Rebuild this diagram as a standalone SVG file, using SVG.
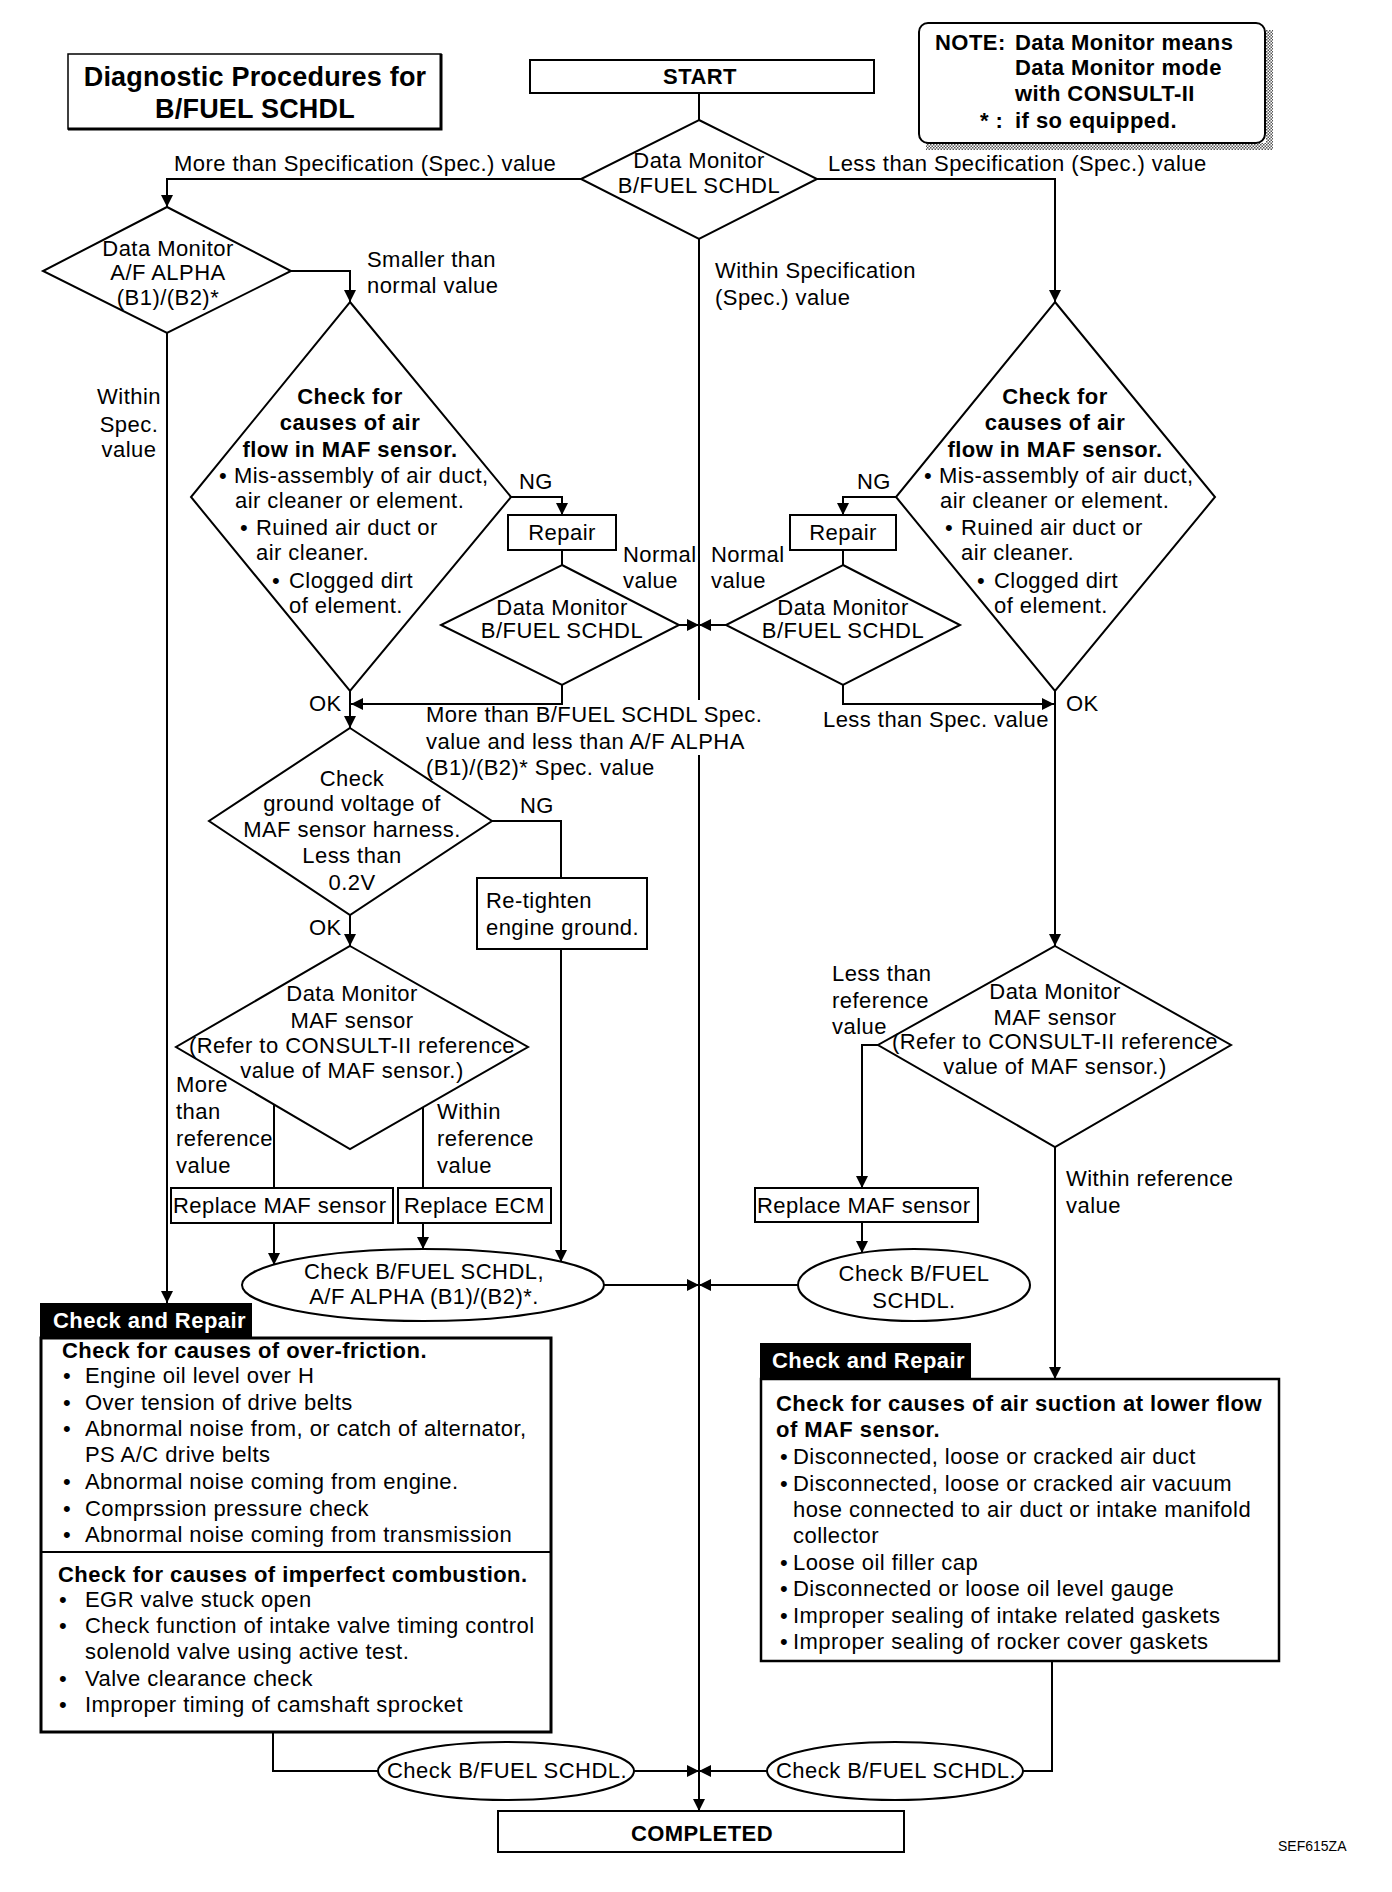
<svg xmlns="http://www.w3.org/2000/svg" width="1392" height="1892" viewBox="0 0 1392 1892">
<style>
text{font-family:"Liberation Sans",Arial,sans-serif;font-size:22px;letter-spacing:0.45px;fill:#000}
.b{font-weight:bold}
.c{text-anchor:middle}
.w{fill:#fff}
.ttl{font-size:27px;letter-spacing:0.2px}
.sm{font-size:14px;letter-spacing:0}
.ln{fill:none;stroke:#000;stroke-width:2}
.sh{fill:#fff;stroke:#000;stroke-width:2}
.bx{fill:#fff;stroke:#000;stroke-width:3}
</style>
<defs>
<marker id="ah" viewBox="0 0 12 12" refX="12" refY="6" markerWidth="12" markerHeight="12" markerUnits="userSpaceOnUse" orient="auto"><path d="M0,0 L12,6 L0,12 z" fill="#000"/></marker>
<pattern id="chk" width="3" height="3" patternUnits="userSpaceOnUse"><rect width="3" height="3" fill="#fff"/><rect width="1.5" height="1.5" fill="#555"/><rect x="1.5" y="1.5" width="1.5" height="1.5" fill="#555"/></pattern>
</defs>
<rect width="1392" height="1892" fill="#fff"/>

<g id="title">
<rect x="68" y="54" width="373" height="75" fill="#fff" stroke="#000" stroke-width="1.5"/>
<path d="M68,129 H441 V54" fill="none" stroke="#000" stroke-width="3"/>
<text class="b c ttl" x="255" y="86">Diagnostic Procedures for</text>
<text class="b c ttl" x="255" y="118">B/FUEL SCHDL</text>
</g>

<g id="note">
<rect x="1266" y="30" width="7" height="120" fill="url(#chk)"/>
<rect x="926" y="143" width="347" height="7" fill="url(#chk)"/>
<rect x="919" y="23" width="346" height="120" rx="9" class="sh"/>
<text class="b" x="935" y="50">NOTE:</text>
<text class="b" x="1015" y="50">Data Monitor means</text>
<text class="b" x="1015" y="75">Data Monitor mode</text>
<text class="b" x="1015" y="101">with CONSULT-II</text>
<text class="b" x="980" y="128">* :</text>
<text class="b" x="1015" y="128">if so equipped.</text>
</g>

<g id="connectors">
<path class="ln" d="M699,93 V120"/>
<path class="ln" d="M581,179 H167 V207" marker-end="url(#ah)"/>
<path class="ln" d="M817,179 H1055 V302" marker-end="url(#ah)"/>
<path class="ln" d="M699,239 V700"/>
<path class="ln" d="M699,755 V1811" marker-end="url(#ah)"/>
<path class="ln" d="M291,271 H350 V302" marker-end="url(#ah)"/>
<path class="ln" d="M167,333 V1303" marker-end="url(#ah)"/>
<path class="ln" d="M511,497 H562 V515" marker-end="url(#ah)"/>
<path class="ln" d="M562,550 V565"/>
<path class="ln" d="M679,625 H699" marker-end="url(#ah)"/>
<path class="ln" d="M562,685 V704 H351" marker-end="url(#ah)"/>
<path class="ln" d="M350,691 V728" marker-end="url(#ah)"/>
<path class="ln" d="M896,497 H843 V515" marker-end="url(#ah)"/>
<path class="ln" d="M843,550 V565"/>
<path class="ln" d="M726,625 H699" marker-end="url(#ah)"/>
<path class="ln" d="M843,685 V704 H1054" marker-end="url(#ah)"/>
<path class="ln" d="M1055,691 V946" marker-end="url(#ah)"/>
<path class="ln" d="M492,821 H561 V878"/>
<path class="ln" d="M350,915 V946" marker-end="url(#ah)"/>
<path class="ln" d="M561,949 V1262" marker-end="url(#ah)"/>
<path class="ln" d="M274,1105 V1188"/>
<path class="ln" d="M423,1107 V1188"/>
<path class="ln" d="M274,1223 V1265" marker-end="url(#ah)"/>
<path class="ln" d="M423,1223 V1249" marker-end="url(#ah)"/>
<path class="ln" d="M604,1285 H699" marker-end="url(#ah)"/>
<path class="ln" d="M798,1285 H699" marker-end="url(#ah)"/>
<path class="ln" d="M878,1045 H862 V1188" marker-end="url(#ah)"/>
<path class="ln" d="M862,1222 V1253" marker-end="url(#ah)"/>
<path class="ln" d="M1055,1147 V1379" marker-end="url(#ah)"/>
<path class="ln" d="M273,1732 V1771 H378"/>
<path class="ln" d="M634,1771 H699" marker-end="url(#ah)"/>
<path class="ln" d="M1052,1661 V1771 H1023"/>
<path class="ln" d="M767,1771 H699" marker-end="url(#ah)"/>
</g>

<g id="labels">
<text x="174" y="171">More than Specification (Spec.) value</text>
<text x="828" y="171">Less than Specification (Spec.) value</text>
<text x="715" y="278">Within Specification</text>
<text x="715" y="305">(Spec.) value</text>
<text x="367" y="267">Smaller than</text>
<text x="367" y="293">normal value</text>
<text class="c" x="129" y="404">Within</text>
<text class="c" x="129" y="432">Spec.</text>
<text class="c" x="129" y="457">value</text>
<text x="519" y="489">NG</text>
<text x="857" y="489">NG</text>
<text x="623" y="562">Normal</text>
<text x="623" y="588">value</text>
<text x="711" y="562">Normal</text>
<text x="711" y="588">value</text>
<text x="309" y="711">OK</text>
<text x="1066" y="711">OK</text>
<text x="426" y="722">More than B/FUEL SCHDL Spec.</text>
<text x="426" y="749">value and less than A/F ALPHA</text>
<text x="426" y="775">(B1)/(B2)* Spec. value</text>
<text x="823" y="727">Less than Spec. value</text>
<text x="520" y="813">NG</text>
<text x="309" y="935">OK</text>
<text x="176" y="1092">More</text>
<text x="176" y="1119">than</text>
<text x="176" y="1146">reference</text>
<text x="176" y="1173">value</text>
<text x="437" y="1119">Within</text>
<text x="437" y="1146">reference</text>
<text x="437" y="1173">value</text>
<text x="832" y="981">Less than</text>
<text x="832" y="1008">reference</text>
<text x="832" y="1034">value</text>
<text x="1066" y="1186">Within reference</text>
<text x="1066" y="1213">value</text>
<text class="sm" x="1278" y="1851">SEF615ZA</text>
</g>

<g id="start">
<rect x="530" y="60" width="344" height="33" class="sh"/>
<text class="b c" x="700" y="84">START</text>
</g>

<g id="dm-main">
<polygon points="699,120 817,179 699,239 581,179" class="sh"/>
<text class="c" x="699" y="168">Data Monitor</text>
<text class="c" x="699" y="193">B/FUEL SCHDL</text>
</g>

<g id="dm-alpha">
<polygon points="167,207 291,271 167,333 43,271" class="sh"/>
<text class="c" x="168" y="256">Data Monitor</text>
<text class="c" x="168" y="280">A/F ALPHA</text>
<text class="c" x="168" y="305">(B1)/(B2)*</text>
</g>

<g id="check-air-left">
<polygon points="350,302 511,497 350,691 191,497" class="sh"/>
<text class="b c" x="350" y="404">Check for</text>
<text class="b c" x="350" y="430">causes of air</text>
<text class="b c" x="350" y="457">flow in MAF sensor.</text>
<text x="219" y="483">•</text>
<text x="234" y="483">Mis-assembly of air duct,</text>
<text x="235" y="508">air cleaner or element.</text>
<text x="240" y="535">•</text>
<text x="256" y="535">Ruined air duct or</text>
<text x="256" y="560">air cleaner.</text>
<text x="272" y="588">•</text>
<text x="289" y="588">Clogged dirt</text>
<text x="289" y="613">of element.</text>
</g>

<g id="check-air-right">
<polygon points="1055,302 1215,497 1055,691 896,497" class="sh"/>
<text class="b c" x="1055" y="404">Check for</text>
<text class="b c" x="1055" y="430">causes of air</text>
<text class="b c" x="1055" y="457">flow in MAF sensor.</text>
<text x="924" y="483">•</text>
<text x="939" y="483">Mis-assembly of air duct,</text>
<text x="940" y="508">air cleaner or element.</text>
<text x="945" y="535">•</text>
<text x="961" y="535">Ruined air duct or</text>
<text x="961" y="560">air cleaner.</text>
<text x="977" y="588">•</text>
<text x="994" y="588">Clogged dirt</text>
<text x="994" y="613">of element.</text>
</g>

<g id="repair-left">
<rect x="508" y="515" width="108" height="35" class="sh"/>
<text class="c" x="562" y="540">Repair</text>
</g>
<g id="repair-right">
<rect x="790" y="515" width="106" height="35" class="sh"/>
<text class="c" x="843" y="540">Repair</text>
</g>

<g id="dm-small-left">
<polygon points="562,565 679,625 562,685 441,625" class="sh"/>
<text class="c" x="562" y="615">Data Monitor</text>
<text class="c" x="562" y="638">B/FUEL SCHDL</text>
</g>
<g id="dm-small-right">
<polygon points="843,565 960,625 843,685 726,625" class="sh"/>
<text class="c" x="843" y="615">Data Monitor</text>
<text class="c" x="843" y="638">B/FUEL SCHDL</text>
</g>

<g id="ground-check">
<polygon points="350,728 492,821 350,915 209,821" class="sh"/>
<text class="c" x="352" y="786">Check</text>
<text class="c" x="352" y="811">ground voltage of</text>
<text class="c" x="352" y="837">MAF sensor harness.</text>
<text class="c" x="352" y="863">Less than</text>
<text class="c" x="352" y="890">0.2V</text>
</g>

<g id="retighten">
<rect x="477" y="878" width="170" height="71" class="sh"/>
<text x="486" y="908">Re-tighten</text>
<text x="486" y="935">engine ground.</text>
</g>

<g id="dm-maf-left">
<polygon points="350,946 528,1047 350,1149 176,1047" class="sh"/>
<text class="c" x="352" y="1001">Data Monitor</text>
<text class="c" x="352" y="1028">MAF sensor</text>
<text class="c" x="352" y="1053">(Refer to CONSULT-II reference</text>
<text class="c" x="352" y="1078">value of MAF sensor.)</text>
</g>

<g id="dm-maf-right">
<polygon points="1055,946 1231,1045 1055,1147 878,1045" class="sh"/>
<text class="c" x="1055" y="999">Data Monitor</text>
<text class="c" x="1055" y="1025">MAF sensor</text>
<text class="c" x="1055" y="1049">(Refer to CONSULT-II reference</text>
<text class="c" x="1055" y="1074">value of MAF sensor.)</text>
</g>

<g id="replace-maf-left">
<rect x="171" y="1188" width="222" height="35" class="sh"/>
<text x="173" y="1213">Replace MAF sensor</text>
</g>
<g id="replace-ecm">
<rect x="398" y="1188" width="153" height="35" class="sh"/>
<text x="404" y="1213">Replace ECM</text>
</g>
<g id="replace-maf-right">
<rect x="755" y="1188" width="223" height="34" class="sh"/>
<text x="757" y="1213">Replace MAF sensor</text>
</g>

<g id="check-left-ellipse">
<ellipse cx="423" cy="1285" rx="181" ry="36" class="sh"/>
<text class="c" x="424" y="1279">Check B/FUEL SCHDL,</text>
<text class="c" x="424" y="1304">A/F ALPHA (B1)/(B2)*.</text>
</g>
<g id="check-right-ellipse">
<ellipse cx="914" cy="1285" rx="116" ry="36" class="sh"/>
<text class="c" x="914" y="1281">Check B/FUEL</text>
<text class="c" x="914" y="1308">SCHDL.</text>
</g>

<g id="repair-box-left">
<rect x="41" y="1338" width="510" height="394" class="bx"/>
<rect x="40" y="1303" width="212" height="36" fill="#000"/>
<text class="b w" x="53" y="1328">Check and Repair</text>
<text class="b" x="62" y="1358">Check for causes of over-friction.</text>
<text x="63" y="1383">•</text><text x="85" y="1383">Engine oil level over H</text>
<text x="63" y="1410">•</text><text x="85" y="1410">Over tension of drive belts</text>
<text x="63" y="1436">•</text><text x="85" y="1436">Abnormal noise from, or catch of alternator,</text>
<text x="85" y="1462">PS A/C drive belts</text>
<text x="63" y="1489">•</text><text x="85" y="1489">Abnormal noise coming from engine.</text>
<text x="63" y="1516">•</text><text x="85" y="1516">Comprssion pressure check</text>
<text x="63" y="1542">•</text><text x="85" y="1542">Abnormal noise coming from transmission</text>
<path d="M41,1552 H551" stroke="#000" stroke-width="2"/>
<text class="b" x="58" y="1582">Check for causes of imperfect combustion.</text>
<text x="59" y="1607">•</text><text x="85" y="1607">EGR valve stuck open</text>
<text x="59" y="1633">•</text><text x="85" y="1633">Check function of intake valve timing control</text>
<text x="85" y="1659">solenold valve using active test.</text>
<text x="59" y="1686">•</text><text x="85" y="1686">Valve clearance check</text>
<text x="59" y="1712">•</text><text x="85" y="1712">Improper timing of camshaft sprocket</text>
</g>

<g id="repair-box-right">
<rect x="761" y="1379" width="518" height="282" fill="#fff" stroke="#000" stroke-width="2.5"/>
<rect x="760" y="1343" width="211" height="37" fill="#000"/>
<text class="b w" x="772" y="1368">Check and Repair</text>
<text class="b" x="776" y="1411">Check for causes of air suction at lower flow</text>
<text class="b" x="776" y="1437">of MAF sensor.</text>
<text x="780" y="1464">•</text><text x="793" y="1464">Disconnected, loose or cracked air duct</text>
<text x="780" y="1491">•</text><text x="793" y="1491">Disconnected, loose or cracked air vacuum</text>
<text x="793" y="1517">hose connected to air duct or intake manifold</text>
<text x="793" y="1543">collector</text>
<text x="780" y="1570">•</text><text x="793" y="1570">Loose oil filler cap</text>
<text x="780" y="1596">•</text><text x="793" y="1596">Disconnected or loose oil level gauge</text>
<text x="780" y="1623">•</text><text x="793" y="1623">Improper sealing of intake related gaskets</text>
<text x="780" y="1649">•</text><text x="793" y="1649">Improper sealing of rocker cover gaskets</text>
</g>

<g id="final-left-ellipse">
<ellipse cx="506" cy="1771" rx="128" ry="29" class="sh"/>
<text class="c" x="507" y="1778">Check B/FUEL SCHDL.</text>
</g>
<g id="final-right-ellipse">
<ellipse cx="895" cy="1771" rx="128" ry="29" class="sh"/>
<text class="c" x="896" y="1778">Check B/FUEL SCHDL.</text>
</g>

<g id="completed">
<rect x="498" y="1811" width="406" height="41" class="sh"/>
<text class="b c" x="702" y="1841">COMPLETED</text>
</g>
</svg>
